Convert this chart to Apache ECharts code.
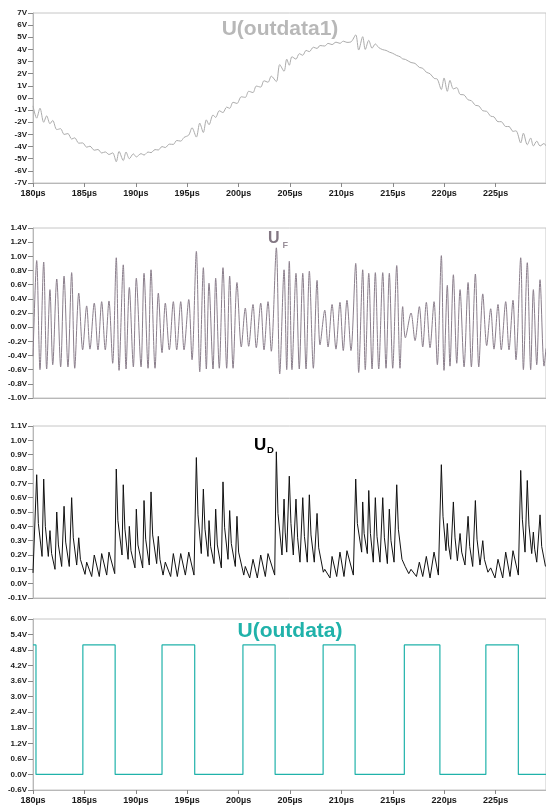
<!DOCTYPE html>
<html><head><meta charset="utf-8">
<script src="https://cdn.jsdelivr.net/npm/echarts@6/dist/echarts.min.js"></script>
<style>html,body{margin:0;padding:0;background:#fff}#c{width:546px;height:805px}</style>
</head><body><div id="c"></div>
<script>
// sample times (µs) of the oscillation extrema in U_F; also used for U(outdata1)
const ufTime = [180.00,180.36,180.68,181.04,181.33,181.65,181.92,182.31,182.69,183.02,
183.40,183.76,184.06,184.45,184.83,185.22,185.54,185.96,186.32,186.68,
187.03,187.39,187.75,188.10,188.37,188.78,189.05,189.37,189.76,190.05,
190.51,190.80,191.19,191.48,191.87,192.19,192.55,192.87,193.26,193.65,
193.98,194.37,194.69,195.15,195.47,195.89,196.22,196.57,196.86,197.12,
197.51,197.77,198.12,198.48,198.84,199.13,199.46,199.84,200.26,200.65,
200.98,201.40,201.72,202.15,202.47,202.86,203.18,203.67,204.00,204.42,
204.68,204.93,205.19,205.58,205.90,206.24,206.56,206.88,207.27,207.63,
207.92,208.38,208.70,209.09,209.47,209.86,210.18,210.54,210.93,211.39,
211.68,212.07,212.32,212.66,212.98,213.30,213.63,214.02,214.34,214.66,
214.99,215.38,215.70,215.96,216.22,216.77,217.16,217.58,217.91,218.26,
218.62,219.01,219.33,219.72,219.98,220.30,220.56,220.89,221.22,221.54,
221.93,222.32,222.64,223.03,223.36,223.75,224.13,224.52,224.84,225.23,
225.55,225.98,226.30,226.69,226.98,227.44,227.70,228.08,228.41,228.67,
229.00,229.32,229.71,229.90];
const ufVolt = [-0.41,0.94,-0.60,0.92,-0.59,0.53,-0.53,0.68,-0.56,0.72,
-0.56,0.77,-0.58,0.48,-0.32,0.30,-0.31,0.34,-0.32,0.36,
-0.32,0.37,-0.51,0.98,-0.61,0.88,-0.59,0.56,-0.56,0.69,
-0.56,0.76,-0.58,0.81,-0.58,0.48,-0.36,0.34,-0.32,0.36,
-0.32,0.36,-0.32,0.39,-0.46,1.07,-0.63,0.84,-0.59,0.62,
-0.59,0.69,-0.58,0.84,-0.58,0.72,-0.58,0.63,-0.28,0.27,
-0.27,0.32,-0.29,0.34,-0.32,0.36,-0.34,1.12,-0.66,0.81,
-0.60,0.93,-0.60,0.76,-0.59,0.76,-0.59,0.79,-0.58,0.66,
-0.25,0.24,-0.28,0.32,-0.31,0.35,-0.33,0.38,-0.33,0.90,
-0.64,0.81,-0.60,0.76,-0.59,0.77,-0.59,0.77,-0.58,0.76,
-0.58,0.87,-0.58,0.29,-0.15,0.20,-0.19,0.29,-0.28,0.35,
-0.29,0.36,-0.53,1.01,-0.61,0.59,-0.55,0.74,-0.51,0.53,
-0.56,0.63,-0.56,0.75,-0.56,0.47,-0.26,0.26,-0.31,0.32,
-0.32,0.36,-0.32,0.38,-0.46,0.98,-0.60,0.91,-0.60,0.53,
-0.53,0.67,-0.55,-0.30];
const out1Volt = [-0.65,-1.66,-0.84,-2.00,-1.47,-2.12,-1.85,-2.60,-2.53,-3.00,
-2.93,-3.38,-3.28,-3.72,-3.70,-4.05,-3.97,-4.30,-4.24,-4.53,
-4.44,-4.65,-4.52,-5.25,-4.40,-5.15,-4.45,-5.00,-4.60,-4.85,
-4.58,-4.70,-4.45,-4.50,-4.25,-4.28,-4.00,-4.08,-3.80,-3.82,
-3.50,-3.55,-3.25,-3.05,-2.45,-3.22,-2.07,-2.84,-1.80,-2.20,
-1.40,-1.60,-1.05,-1.20,-0.75,-0.85,-0.35,-0.45,0.10,0.05,
0.55,0.45,0.98,0.90,1.42,1.30,1.80,1.35,2.75,2.20,
3.20,2.70,3.40,3.20,3.65,3.52,3.92,3.82,4.18,4.08,
4.32,4.28,4.50,4.40,4.60,4.50,4.68,4.58,4.62,5.20,
3.95,5.05,4.00,4.75,4.10,4.45,4.15,3.98,3.92,3.78,
3.68,3.50,3.40,3.22,3.18,2.92,2.85,2.52,2.45,2.12,
2.00,1.62,1.55,0.70,1.65,0.55,1.45,0.75,0.85,0.30,
0.25,-0.15,-0.22,-0.60,-0.65,-1.05,-1.10,-1.50,-1.55,-1.95,
-1.95,-2.35,-2.35,-2.75,-2.70,-3.70,-2.90,-3.85,-3.30,-3.95,
-3.55,-3.95,-3.75,-3.95];
// U_D: [time µs, volts] read at spikes, early decay and valleys
const udPoints = [
[180.00,0.075],[180.19,0.064],[180.36,0.76],[180.52,0.42],[180.88,0.19],[181.04,0.73],[181.20,0.40],[181.49,0.19],
[181.65,0.37],[181.81,0.21],[182.14,0.10],[182.31,0.50],[182.47,0.27],[182.79,0.12],[183.02,0.54],[183.18,0.29],
[183.53,0.12],[183.76,0.60],[183.92,0.32],[184.25,0.13],[184.45,0.32],[184.61,0.17],[185.06,0.065],[185.22,0.15],
[185.71,0.05],[185.96,0.20],[186.45,0.05],[186.68,0.21],[187.17,0.06],[187.39,0.22],[187.95,0.07],[188.10,0.80],
[188.26,0.44],[188.66,0.20],[188.78,0.69],[188.94,0.38],[189.25,0.17],[189.37,0.40],[189.53,0.23],[189.92,0.11],
[190.05,0.52],[190.21,0.27],[190.67,0.11],[190.80,0.58],[190.96,0.31],[191.31,0.13],[191.48,0.64],[191.64,0.34],
[192.03,0.14],[192.19,0.33],[192.35,0.17],[192.65,0.06],[192.87,0.15],[193.39,0.05],[193.65,0.21],[194.04,0.05],
[194.37,0.21],[194.82,0.06],[195.15,0.22],[195.66,0.06],[195.89,0.88],[196.05,0.48],[196.37,0.21],[196.57,0.66],
[196.73,0.38],[197.02,0.19],[197.12,0.44],[197.28,0.26],[197.61,0.14],[197.77,0.52],[197.93,0.27],[198.32,0.11],
[198.48,0.71],[198.64,0.39],[198.97,0.17],[199.13,0.51],[199.29,0.28],[199.68,0.12],[199.84,0.47],[200.00,0.22],
[200.50,0.06],[200.65,0.12],[201.08,0.04],[201.40,0.17],[201.82,0.04],[202.15,0.20],[202.60,0.05],[202.86,0.21],
[203.51,0.06],[203.67,0.92],[203.83,0.49],[204.22,0.20],[204.42,0.59],[204.53,0.36],[204.68,0.22],[204.93,0.75],
[205.09,0.42],[205.32,0.20],[205.58,0.59],[205.74,0.32],[205.97,0.15],[206.24,0.60],[206.40,0.33],[206.68,0.15],
[206.88,0.62],[207.04,0.34],[207.36,0.15],[207.63,0.49],[207.79,0.25],[208.24,0.08],[208.38,0.10],[208.89,0.04],
[209.09,0.19],[209.54,0.05],[209.86,0.22],[210.25,0.05],[210.54,0.23],[211.16,0.06],[211.39,0.73],[211.55,0.42],
[211.97,0.22],[212.07,0.57],[212.21,0.35],[212.52,0.21],[212.66,0.65],[212.82,0.35],[213.10,0.15],[213.30,0.60],
[213.46,0.33],[213.75,0.15],[214.02,0.60],[214.18,0.32],[214.47,0.14],[214.66,0.52],[214.82,0.30],[215.12,0.15],
[215.38,0.69],[215.54,0.38],[215.89,0.17],[216.20,0.12],[216.55,0.07],[216.77,0.10],[217.30,0.05],[217.58,0.15],
[217.91,0.05],[218.26,0.19],[218.62,0.04],[219.01,0.22],[219.43,0.06],[219.72,0.83],[219.88,0.47],[220.17,0.23],
[220.30,0.42],[220.42,0.27],[220.63,0.17],[220.89,0.57],[221.05,0.32],[221.28,0.16],[221.54,0.35],[221.70,0.22],
[222.02,0.13],[222.32,0.47],[222.48,0.26],[222.77,0.12],[223.03,0.58],[223.19,0.31],[223.48,0.13],[223.75,0.30],
[223.91,0.17],[224.25,0.08],[224.52,0.11],[224.94,0.04],[225.23,0.17],[225.69,0.04],[225.98,0.22],[226.40,0.05],
[226.69,0.23],[227.21,0.06],[227.44,0.79],[227.60,0.45],[227.86,0.22],[228.08,0.72],[228.24,0.41],[228.51,0.21],
[228.67,0.36],[228.80,0.24],[229.00,0.15],[229.32,0.48],[229.48,0.26],[229.85,0.12],[229.90,0.12]];
// U(outdata): switching instants (µs) and the level held before/after each
const outEdges = [180.29,184.85,187.99,192.55,195.73,200.42,203.55,208.22,211.33,216.12,219.58,224.05,227.21];
const outLevels = [5.0,0,5.0,0,5.0,0,5.0,0,5.0,0,5.0,0,5.0,0];
const xTickValues = [180,185,190,195,200,205,210,215,220,225];
const tStart = 180, tEnd = 229.9;

const zip = (a, b) => a.map((t, i) => [t, b[i]]);
const outData = [[tStart, outLevels[0]]];
outEdges.forEach((t, i) => { outData.push([t, outLevels[i]], [t, outLevels[i + 1]]); });
outData.push([tEnd, outLevels[outLevels.length - 1]]);

const FONT = '"Liberation Sans", Arial, sans-serif';
const grids = [
  {left: 33, right: -1, top: 13, height: 170},
  {left: 33, right: -1, top: 228, height: 170},
  {left: 33, right: -1, top: 426, height: 172},
  {left: 33, right: -1, top: 619, height: 172}
].map(g => Object.assign(g, {show: true, borderColor: '#c6c6c6', borderWidth: 1, backgroundColor: 'transparent'}));

function xAx(i, labels) {
  return {
    type: 'value', gridIndex: i, min: tStart, max: tEnd,
    axisLine: {show: true, onZero: false, lineStyle: {color: '#b8b8b8', width: 1}},
    axisTick: {show: labels, customValues: xTickValues, length: 4, lineStyle: {color: '#888'}},
    axisLabel: {show: labels, customValues: xTickValues, margin: 6, color: '#1a1a1a', fontWeight: 'bold', fontSize: 9, fontFamily: FONT,
      formatter: v => Math.round(v) + 'µs'},
    splitLine: {show: false}
  };
}
function fmt(d) { return v => (Math.abs(v) < 1e-9 ? 0 : v).toFixed(d) + 'V'; }
function yAx(i, min, max, interval, dec) {
  return {
    type: 'value', gridIndex: i, min, max, interval,
    axisLine: {show: true, onZero: false, lineStyle: {color: '#b8b8b8', width: 1}},
    axisTick: {show: true, length: 5, lineStyle: {color: '#888'}},
    axisLabel: {margin: 6, color: '#1a1a1a', fontWeight: 'bold', fontSize: 8, fontFamily: FONT, formatter: fmt(dec)},
    splitLine: {show: false}
  };
}

const chart = echarts.init(document.getElementById('c'), null, {renderer: 'canvas'});
chart.setOption({
  animation: false,
  backgroundColor: '#fff',
  grid: grids,
  xAxis: [xAx(0, true), xAx(1, false), xAx(2, false), xAx(3, true)],
  yAxis: [yAx(0, -7, 7, 1, 0), yAx(1, -1.0, 1.4, 0.2, 1), yAx(2, -0.1, 1.1, 0.1, 1), yAx(3, -0.6, 6.0, 0.6, 1)],
  series: [
    {type: 'line', xAxisIndex: 0, yAxisIndex: 0, data: zip(ufTime, out1Volt), showSymbol: false, smooth: 0.3, lineStyle: {color: '#ababab', width: 1}},
    {type: 'line', xAxisIndex: 1, yAxisIndex: 1, data: zip(ufTime, ufVolt), showSymbol: false, smooth: 0.3, lineStyle: {color: '#8a7e8b', width: 1}},
    {type: 'line', xAxisIndex: 2, yAxisIndex: 2, data: udPoints, showSymbol: false, lineStyle: {color: '#111', width: 1}},
    {type: 'line', xAxisIndex: 3, yAxisIndex: 3, data: outData, showSymbol: false, lineStyle: {color: '#20b2aa', width: 1.2}}
  ],
  graphic: [
    {type: 'text', x: 280, y: 29, style: {text: 'U(outdata1)', font: 'bold 21px ' + FONT, fill: '#b8b8b8', textAlign: 'center', textVerticalAlign: 'middle'}},
    {type: 'text', x: 268, y: 239, style: {text: 'U', font: 'bold 16px ' + FONT, fill: '#837783', textAlign: 'left', textVerticalAlign: 'middle'}},
    {type: 'text', x: 282.5, y: 245.5, style: {text: 'F', font: 'bold 9px ' + FONT, fill: '#9a909a', textAlign: 'left', textVerticalAlign: 'middle'}},
    {type: 'text', x: 254, y: 445.5, style: {text: 'U', font: 'bold 17px ' + FONT, fill: '#000', textAlign: 'left', textVerticalAlign: 'middle'}},
    {type: 'text', x: 267, y: 450, style: {text: 'D', font: 'bold 9.5px ' + FONT, fill: '#000', textAlign: 'left', textVerticalAlign: 'middle'}},
    {type: 'text', x: 290, y: 631, style: {text: 'U(outdata)', font: 'bold 21px ' + FONT, fill: '#20b2aa', textAlign: 'center', textVerticalAlign: 'middle'}}
  ]
});
</script>
</body></html>
